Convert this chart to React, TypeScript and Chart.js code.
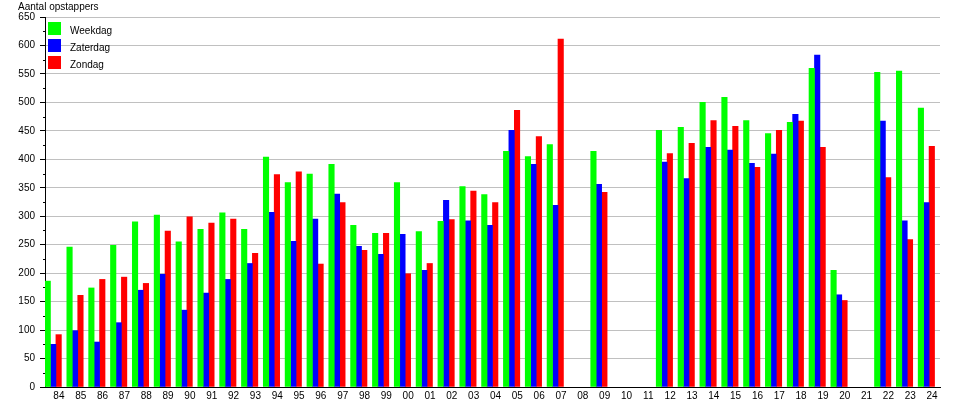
import React, { useEffect, useRef } from 'react';
import { Chart, registerables } from 'chart.js';
Chart.register(...registerables);

const categories = ['84','85','86','87','88','89','90','91','92','93','94','95','96','97','98','99','00','01','02','03','04','05','06','07','08','09','10','11','12','13','14','15','16','17','18','19','20','21','22','23','24'];
const weekdag = [186,246,174,249,290,302,255,277,306,277,404,359,374,391,284,270,359,273,291,352,338,414,405,426,null,414,null,null,451,456,500,509,468,445,465,560,205,null,553,555,490];
const zaterdag = [75,99,79,113,170,198,135,165,189,217,307,256,295,339,247,233,268,205,328,292,284,451,391,319,null,356,null,null,395,366,421,416,393,409,479,583,162,null,467,292,324];
const zondag = [92,161,189,193,182,274,299,288,295,235,373,378,216,324,240,270,199,217,294,344,324,486,440,611,null,342,null,null,410,428,468,458,386,451,467,421,152,null,368,259,423];
const seriesNames = ['Weekdag', 'Zaterdag', 'Zondag'];
const seriesColors = ['#00ff00', '#0000ff', '#ff0000'];
const yTitle = 'Aantal opstappers';
const yMin = 0;
const yMax = 650;
const yStep = 50;

const FONT = '"Liberation Sans", Arial, sans-serif';

const overlayPlugin = {
  id: 'overlay',
  afterDraw(chart: any) {
    const ctx = chart.ctx;
    const area = chart.chartArea;
    const y = chart.scales.y;
    ctx.save();
    // minor ticks
    ctx.strokeStyle = '#000';
    ctx.lineWidth = 1;
    for (let v = yMin + yStep / 2; v < yMax; v += yStep) {
      const py = Math.round(y.getPixelForValue(v)) + 0.5;
      ctx.beginPath();
      ctx.moveTo(area.left - 2, py);
      ctx.lineTo(area.left, py);
      ctx.stroke();
    }
    // title
    ctx.fillStyle = '#000';
    ctx.font = '10px ' + FONT;
    ctx.textAlign = 'left';
    ctx.textBaseline = 'alphabetic';
    ctx.fillText(yTitle, 18, 10);
    // legend
    chart.data.datasets
      .filter((ds: any) => ds.label)
      .forEach((ds: any, i: number) => {
        const top = area.top + 5 + i * 17;
        ctx.fillStyle = ds.backgroundColor;
        ctx.fillRect(area.left + 3, top, 13, 13);
        ctx.fillStyle = '#000';
        ctx.fillText(ds.label, area.left + 25, top + 12);
      });
    ctx.restore();
  },
};

export default function App() {
  const ref = useRef<HTMLCanvasElement>(null);
  useEffect(() => {
    document.body.style.margin = '0';
    const series = [weekdag, zaterdag, zondag].map((d, i) => ({
      label: seriesNames[i],
      data: d,
      backgroundColor: seriesColors[i],
      borderWidth: 0,
      categoryPercentage: 1.0,
      barPercentage: 1.0,
    }));
    // empty slot after the three series: bars sit at the left of each category, as in the reference
    const spacer = {
      label: '',
      data: categories.map(() => null),
      backgroundColor: 'rgba(0,0,0,0)',
      borderWidth: 0,
      categoryPercentage: 1.0,
      barPercentage: 1.0,
    };
    const chart = new Chart(ref.current!, {
      type: 'bar',
      data: {
        labels: categories,
        datasets: [...series, spacer] as any,
      },
      options: {
        animation: false,
        responsive: false,
        maintainAspectRatio: false,
        layout: { padding: { top: 17, right: 16, left: 0, bottom: 0 } },
        plugins: { legend: { display: false }, title: { display: false }, tooltip: { enabled: false } },
        scales: {
          x: {
            grid: { display: false, drawTicks: false },
            border: { display: true, color: '#000', width: 1 },
            ticks: { color: '#000', font: { family: FONT, size: 10 }, padding: 3, labelOffset: 3, autoSkip: false, maxRotation: 0 },
            afterFit: (s: any) => { s.height = 13; },
          },
          y: {
            min: yMin,
            max: yMax,
            grid: { color: '#c0c0c0', tickColor: '#000', tickLength: 5, lineWidth: 1 },
            border: { display: true, color: '#000', width: 1 },
            ticks: { stepSize: yStep, color: '#000', font: { family: FONT, size: 10 }, padding: 5 },
            afterFit: (s: any) => { s.width = 45; },
          },
        },
      },
      plugins: [overlayPlugin],
    });
    return () => chart.destroy();
  }, []);
  return <canvas ref={ref} width={956} height={400} style={{ display: 'block' }} />;
}
